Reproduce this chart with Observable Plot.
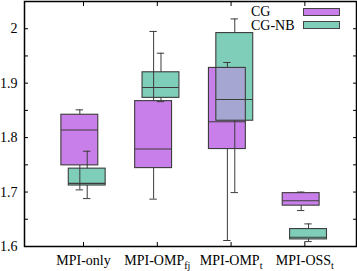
<!DOCTYPE html>
<html><head><meta charset="utf-8">
<script src="https://cdn.jsdelivr.net/npm/d3@7"></script>
<script src="https://cdn.jsdelivr.net/npm/@observablehq/plot@0.6"></script>
<style>
body{margin:0;background:#fff;}
#wrap{position:relative;width:357px;height:271px;font-family:"Liberation Serif",serif;}
.lg{position:absolute;left:251px;font-size:14px;line-height:14px;color:#000;}
.sw{position:absolute;left:303px;width:35px;height:6px;border:1px solid #444;}
</style></head><body><div id="wrap"></div>
<script>
// categories (tick labels with subscript parts)
const labelBase = ["MPI-only", "MPI-OMP", "MPI-OMP", "MPI-OSS"];
const labelSub = ["", "fj", "t", "t"];
const series = ["CG", "CG-NB"];
const colors = ["#c97fe9", "#7fceb9"];
const overlapColor = "#a5a6d2";

// CG box statistics per category
const cgMin = [1.704, 1.687, 1.611, 1.666];
const cgQ1  = [1.749, 1.744, 1.779, 1.675];
const cgMed = [1.814, 1.779, 1.829, 1.684];
const cgQ3  = [1.842, 1.867, 1.928, 1.698];
const cgMax = [1.851, 1.995, 1.938, 1.700];

// CG-NB box statistics per category
const nbMin = [1.688, 1.866, 1.699, 1.609];
const nbQ1  = [1.712, 1.873, 1.831, 1.613];
const nbMed = [1.716, 1.892, 1.870, 1.617];
const nbQ3  = [1.743, 1.920, 1.992, 1.632];
const nbMax = [1.775, 1.955, 2.018, 1.6415];

const yTicks = [1.6, 1.7, 1.8, 1.9, 2.0];
const yMinorTicks = [1.65, 1.75, 1.85, 1.95];

const shift = [-0.05, 0.05];
const half = 0.25, capHalf = 0.05;
const stats = [
  [cgMin, cgQ1, cgMed, cgQ3, cgMax],
  [nbMin, nbQ1, nbMed, nbQ3, nbMax]
];
const rows = [];
series.forEach((s, si) => {
  labelBase.forEach((_, i) => {
    const [mn, q1, md, q3, mx] = stats[si];
    rows.push({series: s, si, pos: i + 1 + shift[si], lo: mn[i], q1: q1[i], med: md[i], q3: q3[i], hi: mx[i]});
  });
});
// overlap of the two translucent boxes (derived)
const overlaps = [];
labelBase.forEach((_, i) => {
  const a = Math.max(cgQ1[i], nbQ1[i]), b = Math.min(cgQ3[i], nbQ3[i]);
  if (b > a) overlaps.push({x1: i + 1 + shift[1] - half, x2: i + 1 + shift[0] + half, y1: a, y2: b});
});

const lineColor = "#3c3c3c";
const noText = () => "";
const chart = Plot.plot({
  width: 357, height: 271,
  marginLeft: 24, marginRight: 1, marginTop: 1, marginBottom: 25,
  style: {fontFamily: "Liberation Serif, serif", fontSize: "14px", color: "#000", background: "#fff"},
  x: {type: "linear", domain: [0.2, 4.7]},
  y: {domain: [1.6, 2.05]},
  marks: [
    Plot.rect(rows, {x1: d => d.pos - half, x2: d => d.pos + half, y1: "q1", y2: "q3", fill: d => colors[d.si]}),
    Plot.rect(overlaps, {x1: "x1", x2: "x2", y1: "y1", y2: "y2", fill: overlapColor}),
    Plot.rect(rows, {x1: d => d.pos - half, x2: d => d.pos + half, y1: "q1", y2: "q3", fill: "none", stroke: lineColor, strokeWidth: 1.1}),
    Plot.ruleY(rows, {y: "med", x1: d => d.pos - half, x2: d => d.pos + half, stroke: lineColor, strokeWidth: 1.1}),
    Plot.ruleX(rows, {x: "pos", y1: "q3", y2: "hi", stroke: lineColor, strokeWidth: 1}),
    Plot.ruleX(rows, {x: "pos", y1: "lo", y2: "q1", stroke: lineColor, strokeWidth: 1}),
    Plot.ruleY(rows, {y: "hi", x1: d => d.pos - capHalf, x2: d => d.pos + capHalf, stroke: lineColor, strokeWidth: 1}),
    Plot.ruleY(rows, {y: "lo", x1: d => d.pos - capHalf, x2: d => d.pos + capHalf, stroke: lineColor, strokeWidth: 1}),
    Plot.axisY({anchor: "left", ticks: yTicks, tickSize: -4, tickPadding: 11, tickFormat: d => String(d), fontSize: 14}),
    Plot.axisY({anchor: "left", ticks: yMinorTicks, tickSize: -4, tickFormat: noText}),
    Plot.axisY({anchor: "right", ticks: yTicks.concat(yMinorTicks), tickSize: -4, tickFormat: noText}),
    Plot.axisX({anchor: "bottom", ticks: [1, 2, 3, 4], tickSize: -4, tickPadding: 13, fontSize: 14,
      tickFormat: d => labelBase[d - 1] + (labelSub[d - 1] ? "_" + labelSub[d - 1] : "")}),
    Plot.axisX({anchor: "top", ticks: [1, 2, 3, 4], tickSize: -4, tickFormat: noText}),
    Plot.frame({stroke: "#000", strokeWidth: 1.5})
  ]
});

// subscripts on tick labels
d3.select(chart).selectAll("text").each(function () {
  const t = d3.select(this);
  const s = this.textContent;
  if (s.includes("_") && this.childElementCount === 0) {
    const [base, sub] = s.split("_");
    t.text(null);
    t.append("tspan").text(base);
    t.append("tspan").attr("dy", "4").attr("font-size", "10px").text(sub);
  }
});

const wrap = document.getElementById("wrap");
wrap.appendChild(chart);
series.forEach((s, si) => {
  const lab = document.createElement("div");
  lab.className = "lg"; lab.textContent = s;
  lab.style.top = (5 + si * 13.5) + "px";
  wrap.appendChild(lab);
  const sw = document.createElement("div");
  sw.className = "sw"; sw.style.background = colors[si];
  sw.style.top = (7.5 + si * 13.5) + "px";
  wrap.appendChild(sw);
});
</script></body></html>
